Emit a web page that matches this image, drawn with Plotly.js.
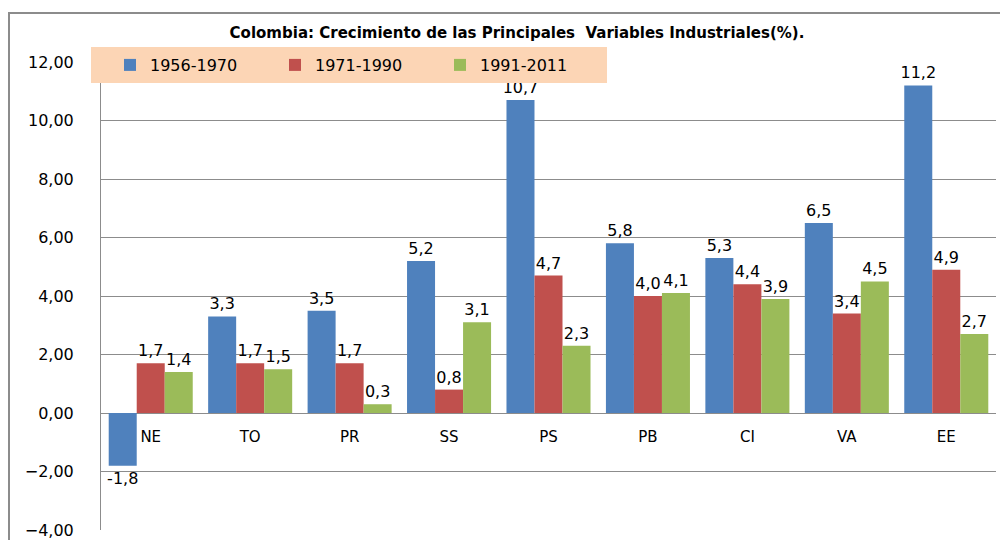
<!DOCTYPE html>
<html><head><meta charset="utf-8">
<script src="https://cdn.plot.ly/plotly-3.0.1.min.js"></script>
<style>body{margin:0;background:#fff}#c{width:1000px;height:540px}</style>
</head><body><div id="c"></div>
<script>
var categories = ['NE','TO','PR','SS','PS','PB','CI','VA','EE'];
var seriesNames = ['1956-1970','1971-1990','1991-2011'];
var s1956 = [-1.8, 3.3, 3.5, 5.2, 10.7, 5.8, 5.3, 6.5, 11.2];
var s1971 = [1.7, 1.7, 1.7, 0.8, 4.7, 4.0, 4.4, 3.4, 4.9];
var s1991 = [1.4, 1.5, 0.3, 3.1, 2.3, 4.1, 3.9, 4.5, 2.7];
var colors = ['#4F81BD','#C0504D','#9BBB59'];

function fmt(v){ return v.toFixed(1).replace('.', ','); }
var series = [s1956, s1971, s1991];
var traces = series.map(function(vals, i){
  return {
    type:'bar', x:categories, y:vals, name:seriesNames[i],
    marker:{color:colors[i], line:{width:0}},
    text: vals.map(fmt), textposition:'outside', constraintext:'none',
    cliponaxis:false,
    textfont:{family:'DejaVu Sans', size:16, color:'#000'},
    hoverinfo:'none'
  };
});

// pixel -> paper helpers (plot area: x 101..996, y 62..530)
var L=101, R=996, T=62, B=530;
function px(x){ return (x-L)/(R-L); }
function py(y){ return (B-y)/(B-T); }

var layout = {
  width:1000, height:540,
  margin:{l:L, r:1000-R, t:T, b:540-B, pad:0},
  paper_bgcolor:'#fff', plot_bgcolor:'#fff',
  separators:',.',
  barmode:'group', bargap:0.155, bargroupgap:0,
  title:{text:'Colombia: Crecimiento de las Principales  Variables Industriales(%).',
    font:{family:'DejaVu Sans', size:15, color:'#000', weight:'bold'},
    xref:'container', yref:'container', x:0.517, xanchor:'center', y:1-33/540, yanchor:'middle'},
  showlegend:true,
  legend:{orientation:'h', x:px(110), xanchor:'left', y:py(65), yanchor:'middle',
    bgcolor:'rgba(0,0,0,0)', font:{family:'DejaVu Sans', size:16, color:'#000'},
    itemwidth:30, entrywidthmode:'pixels', entrywidth:120, traceorder:'normal'},
  xaxis:{anchor:'free', position:0.25, showline:false, showgrid:false, zeroline:false,
    ticks:'', ticklabelstandoff:13,
    tickfont:{family:'DejaVu Sans', size:15, color:'#000'}},
  yaxis:{range:[-4,12], dtick:2, tick0:0, tickformat:'.2f',
    showgrid:true, gridcolor:'#8c8c8c', gridwidth:1,
    zeroline:true, zerolinecolor:'#8c8c8c', zerolinewidth:1,
    showline:true, linecolor:'#8c8c8c', linewidth:1, ticks:'',
    ticklabelstandoff:23,
    tickfont:{family:'DejaVu Sans', size:16, color:'#000'}},
  shapes:[
    {type:'rect', xref:'paper', yref:'paper', x0:px(9), x1:px(1010), y0:py(13), y1:py(560),
     line:{color:'#8c8c8c', width:2}, fillcolor:'rgba(0,0,0,0)', layer:'below'},
    {type:'rect', xref:'paper', yref:'paper', x0:px(91), x1:px(607), y0:py(47), y1:py(83),
     line:{width:0}, fillcolor:'#FCD5B5', layer:'above'}
  ]
};
Plotly.newPlot('c', traces, layout, {displayModeBar:false, staticPlot:true});
</script></body></html>
